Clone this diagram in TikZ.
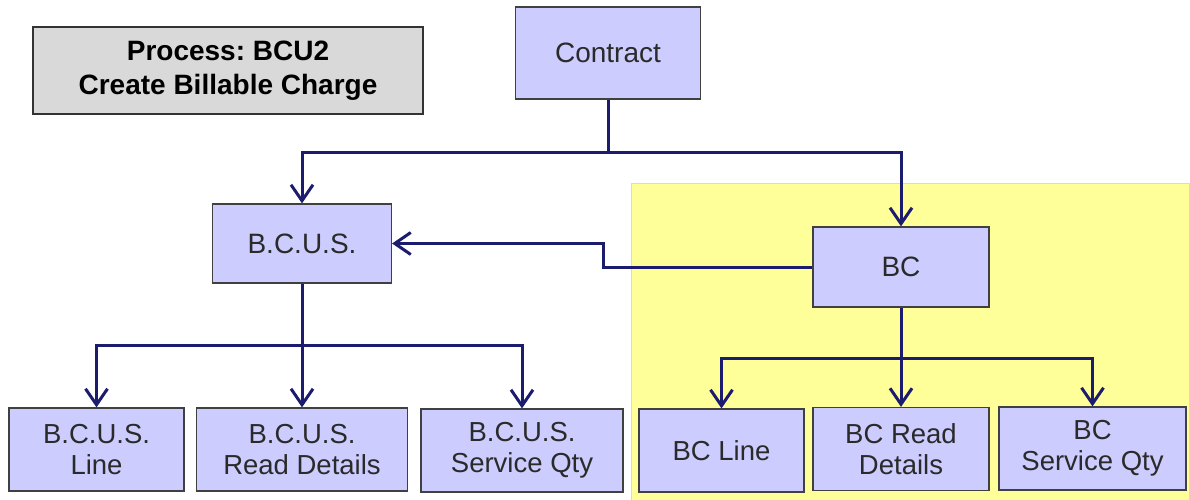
\documentclass[tikz,border=0pt]{standalone}
\usepackage{fontspec}
\setmainfont{Liberation Sans}
\usetikzlibrary{arrows.meta}
\definecolor{boxfill}{HTML}{CCCCFF}
\definecolor{navyline}{HTML}{1C1C6E}
\definecolor{hilite}{HTML}{FFFF99}
\definecolor{hdrfill}{HTML}{D9D9D9}
\definecolor{txt}{HTML}{2A2A2A}
\frenchspacing

\begin{document}
\begin{tikzpicture}[x=1pt, y=-1pt,
        entity/.style={draw=black!75, line width=1.2pt, fill=boxfill, text=txt,
            align=center, inner sep=0pt},
        topbox/.style={entity, font=\fontsize{28}{31}\selectfont},
        leafbox/.style={entity, font=\fontsize{27.5}{31}\selectfont, minimum height=83pt},
        wire/.style={navyline, line width=3pt},
        conn/.style={wire, -{Straight Barb[length=16pt, width=22pt]}}]

            \useasboundingbox (0,0) rectangle (1190,500);

            % highlighted BC area
            \fill[hilite] (631,183) rectangle (1189,500);
            \draw[black!15] (631,500) -- (631,183) -- (1189,183) -- (1189,500);

            \node[draw=black!80, line width=1.2pt, fill=hdrfill, text=black,
                font=\bfseries\fontsize{28}{34}\selectfont, align=center,
                minimum width=390pt, minimum height=87pt] (title) at (228,70.5)
                {Process: BCU2\\Create Billable Charge};

            \node[topbox, minimum width=185pt, minimum height=92pt] (contract) at (608,53) {Contract};
            \node[topbox, minimum width=179pt, minimum height=79pt] (bcus) at (302,243.5) {B.C.U.S.};
            \node[topbox, minimum width=176pt, minimum height=80pt] (bc) at (901,267) {BC};

            \node[leafbox, minimum width=175pt] (bcusline) at (96.5,449.5) {B.C.U.S.\\Line};
            \node[leafbox, minimum width=211pt] (bcusread) at (302,449.5) {B.C.U.S.\\Read Details};
            \node[leafbox, minimum width=202pt] (bcusqty) at (522,450.5) {B.C.U.S.\\Service Qty};

            \node[leafbox, minimum width=165pt] (bcline) at (721.5,450.5) {BC Line};
            \node[leafbox, minimum width=176pt] (bcread) at (901,449) {BC Read\\Details};
            \node[leafbox, minimum width=187pt] (bcqty) at (1092.5,448.5) {BC\\Service Qty};

            \coordinate (csplit) at (608,152);
            \coordinate (bend) at (603,267);
            \coordinate (usplit) at (302,345);
            \coordinate (bsplit) at (901,358);

            % contract to both
            \draw[wire] (contract) -- (csplit);
            \draw[conn] (csplit) -| (bcus.north);
            \draw[conn] (csplit) -| (bc.north);

            \draw[conn] (bc.west) -- (bend) |- (bcus.east);

            % B.C.U.S. children
            \draw[wire] (bcus) -- (usplit);
            \draw[conn] (usplit) -| (bcusline.north);
            \draw[conn] (usplit) -- (bcusread.north);
            \draw[conn] (usplit) -| (bcusqty.north);

            % BC children
            \draw[wire] (bc) -- (bsplit);
            \draw[conn] (bsplit) -| (bcline.north);
            \draw[conn] (bsplit) -- (bcread.north);
            \draw[conn] (bsplit) -| (bcqty.north);

        \end{tikzpicture}
\end{document}
